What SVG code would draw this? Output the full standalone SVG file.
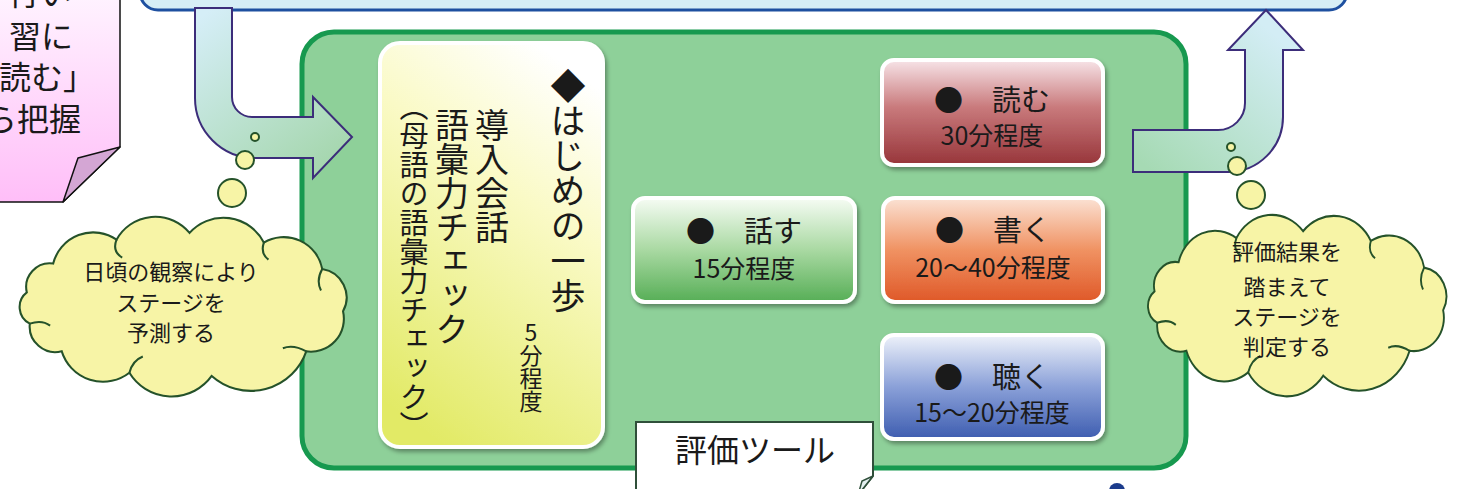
<svg xmlns="http://www.w3.org/2000/svg" width="1461" height="489" viewBox="0 0 1461 489">
  <defs>
    <style>
      text { font-family: "Noto Sans CJK JP", "Noto Sans", sans-serif; fill: #1a1a1a; }
      .v { writing-mode: vertical-rl; }
      .up { text-orientation: upright; }
      .mid { text-anchor: middle; }
      .end { text-anchor: end; }
      .l1 { font-size: 29px; }
      .l2 { font-size: 25px; }
      .cl { font-size: 22px; text-anchor: middle; }
      .note { font-size: 32px; text-anchor: end; }
      .bub { fill: #f7f4a6; stroke: #25522a; stroke-width: 2; }
      .cloud { fill: #f7f4a6; stroke: #25522a; stroke-width: 2; vector-effect: non-scaling-stroke; }
      .cloudin { fill: none; stroke: #25522a; stroke-width: 2; vector-effect: non-scaling-stroke; }
      .card { stroke: #ffffff; stroke-width: 4; }
      .arrow { stroke: #3c2d7a; stroke-width: 2; stroke-linejoin: miter; }
    </style>
    <filter id="sh" x="-10%" y="-10%" width="125%" height="125%">
      <feDropShadow dx="2" dy="3" stdDeviation="2" flood-color="#000" flood-opacity="0.35"/>
    </filter>
    <linearGradient id="gYellow" x1="0.7" y1="0" x2="0.3" y2="1">
      <stop offset="0" stop-color="#ffffff"/>
      <stop offset="0.35" stop-color="#fafac6"/>
      <stop offset="1" stop-color="#e2ea66"/>
    </linearGradient>
    <linearGradient id="gRead" x1="0" y1="0" x2="0" y2="1">
      <stop offset="0" stop-color="#f7e4e8"/>
      <stop offset="0.45" stop-color="#c97a7c"/>
      <stop offset="1" stop-color="#97353a"/>
    </linearGradient>
    <linearGradient id="gSpeak" x1="0" y1="0" x2="0" y2="1">
      <stop offset="0" stop-color="#f6fcf4"/>
      <stop offset="0.5" stop-color="#a9d9a2"/>
      <stop offset="1" stop-color="#56ae56"/>
    </linearGradient>
    <linearGradient id="gWrite" x1="0" y1="0" x2="0" y2="1">
      <stop offset="0" stop-color="#fbe2d4"/>
      <stop offset="0.5" stop-color="#f09262"/>
      <stop offset="1" stop-color="#df5828"/>
    </linearGradient>
    <linearGradient id="gListen" x1="0" y1="0" x2="0" y2="1">
      <stop offset="0" stop-color="#eef2fa"/>
      <stop offset="0.5" stop-color="#8aa0d8"/>
      <stop offset="1" stop-color="#3e5db0"/>
    </linearGradient>
    <linearGradient id="gPink" x1="0" y1="0" x2="0" y2="1">
      <stop offset="0" stop-color="#fff4ff"/>
      <stop offset="1" stop-color="#ffbef8"/>
    </linearGradient>
    <linearGradient id="gArrowL" gradientUnits="userSpaceOnUse" x1="210" y1="10" x2="330" y2="170">
      <stop offset="0" stop-color="#d5eef7"/>
      <stop offset="1" stop-color="#a4d6ac"/>
    </linearGradient>
    <linearGradient id="gArrowR" gradientUnits="userSpaceOnUse" x1="1150" y1="170" x2="1270" y2="30">
      <stop offset="0" stop-color="#a6dab4"/>
      <stop offset="1" stop-color="#d3edf5"/>
    </linearGradient>
    <path id="cloudShape" d="M-152.6,-12.2 A23,23 0 0 1 -127,-40.2 A40,40 0 0 1 -65.5,-63.4 A43,43 0 0 1 5.4,-70 A44,44 0 0 1 77.5,-60.6 A38,38 0 0 1 134.2,-35 A28,28 0 0 1 154.4,6.1 A32,32 0 0 1 118.7,45 A57,57 0 0 1 26.9,68.9 A48,48 0 0 1 -53,65.8 A42,42 0 0 1 -118.7,45 A25,25 0 0 1 -149.7,18.1 A18,18 0 0 1 -152.6,-12.2 Z"/>
    <path id="cloudInner" d="M-65.5,-63.4 Q-70,-52 -60,-46 M77.5,-60.6 Q74,-50 82,-44 M134.2,-35 Q128,-24 133,-14 M118.7,45 Q106,38 96,42 M-53,65.8 Q-50,54 -40,50 M-149.7,18.1 Q-138,14 -130,20"/>
  </defs>

  <rect width="1461" height="489" fill="#ffffff"/>

  <!-- top bar -->
  <g id="top-bar">
    <rect x="140" y="-60" width="1207" height="70" rx="18" fill="#d6eef6" stroke="#1e50a0" stroke-width="3"/>
  </g>

  <!-- main panel -->
  <g id="panel">
    <rect x="302" y="32" width="884" height="436" rx="32" fill="#8ed099" stroke="#17994f" stroke-width="5"/>
  </g>

  <g id="card-hajime">
    <rect x="380" y="43" width="223" height="404" rx="20" fill="url(#gYellow)" class="card" filter="url(#sh)"/>
    <text class="v" x="568" y="68" font-size="35">◆はじめの一歩</text>
    <text class="v" x="492" y="108" font-size="34">導入会話</text>
    <text class="v" x="452" y="108" font-size="34">語彙力チェック</text>
    <text class="v" x="414" y="92" font-size="29">（母語の語彙力チェック）</text>
    <text class="v up" x="531" y="321" font-size="23">5分程度</text>
  </g>

  <g id="card-speak">
    <rect x="633" y="198" width="222" height="104" rx="12" fill="url(#gSpeak)" class="card" filter="url(#sh)"/>
    <text class="mid l1" x="744" y="242">●　話す</text>
    <text class="mid l2" x="744" y="278">15分程度</text>
  </g>

  <g id="card-read">
    <rect x="882" y="60" width="221" height="105" rx="12" fill="url(#gRead)" class="card" filter="url(#sh)"/>
    <text class="mid l1" x="992" y="111">●　読む</text>
    <text class="mid l2" x="992" y="145">30分程度</text>
  </g>

  <g id="card-write">
    <rect x="883" y="198" width="220" height="104" rx="12" fill="url(#gWrite)" class="card" filter="url(#sh)"/>
    <text class="mid l1" x="993" y="241">●　書く</text>
    <text class="mid l2" x="993" y="277">20～40分程度</text>
  </g>

  <g id="card-listen">
    <rect x="882" y="335" width="221" height="104" rx="12" fill="url(#gListen)" class="card" filter="url(#sh)"/>
    <text class="mid l1" x="992" y="388">●　聴く</text>
    <text class="mid l2" x="992" y="422">15～20分程度</text>
  </g>

  <!-- connectors -->
  <g id="connectors">
    <path class="arrow" fill="url(#gArrowL)" d="M195,8 H232 V97 A20,20 0 0 0 252,117 H313 V97 L352,137 L313,178 V158 H255 A60,60 0 0 1 195,98 Z"/>
    <path class="arrow" fill="url(#gArrowR)" d="M1133,130 H1218 A27,27 0 0 0 1245,103 V50 H1228 L1266,10 L1303,50 H1283 V117 A55,55 0 0 1 1228,172 H1133 Z"/>
  </g>

  <!-- thought bubbles -->
  <g id="bubbles-left">
    <circle class="bub" cx="255" cy="137" r="4"/>
    <circle class="bub" cx="245" cy="160" r="9"/>
    <circle class="bub" cx="232" cy="193" r="14"/>
  </g>
  <g id="bubbles-right">
    <circle class="bub" cx="1231" cy="147" r="4"/>
    <circle class="bub" cx="1237" cy="166" r="9"/>
    <circle class="bub" cx="1251" cy="195" r="14"/>
  </g>

  <g id="cloud-left">
    <g transform="translate(184,305) scale(1.03,1.03)">
      <use href="#cloudShape" class="cloud"/>
      <use href="#cloudInner" class="cloudin"/>
    </g>
    <text class="cl" x="171" y="280">日頃の観察により</text>
    <text class="cl" x="171" y="311">ステージを</text>
    <text class="cl" x="171" y="341">予測する</text>
  </g>

  <g id="cloud-right">
    <g transform="translate(1298,304) scale(0.94,1.04)">
      <use href="#cloudShape" class="cloud"/>
      <use href="#cloudInner" class="cloudin"/>
    </g>
    <text class="cl" x="1287" y="260">評価結果を</text>
    <text class="cl" x="1287" y="295">踏まえて</text>
    <text class="cl" x="1287" y="325">ステージを</text>
    <text class="cl" x="1287" y="355">判定する</text>
  </g>

  <!-- left note callout -->
  <g id="note-left">
    <path d="M-10,-10 H120 V147 L63,202 H-10 Z" fill="url(#gPink)" stroke="#111" stroke-width="1.5"/>
    <path d="M120,147 L78,158 L63,202 Z" fill="#d4a6d4" stroke="#111" stroke-width="1.5" stroke-linejoin="round"/>
    <text class="note" x="72" y="5">行い</text>
    <text class="note" x="73" y="48">習に</text>
    <text class="note" x="95" y="89">読む」</text>
    <text class="note" x="81" y="131">ら把握</text>
  </g>

  <!-- evaluation tool callout -->
  <g id="note-tool">
    <path d="M636,422 H873 V476 L858,495 H636 Z" fill="#ffffff" stroke="#2f4f3a" stroke-width="2"/>
    <path d="M873,476 L862,481 L858,495 Z" fill="#e4f0f0" stroke="#2f4f3a" stroke-width="1.5"/>
    <text class="mid" x="755" y="462" font-size="32">評価ツール</text>
  </g>

  <g id="dot">
    <circle cx="1117" cy="491" r="8" fill="#1c3c8c"/>
  </g>
</svg>
